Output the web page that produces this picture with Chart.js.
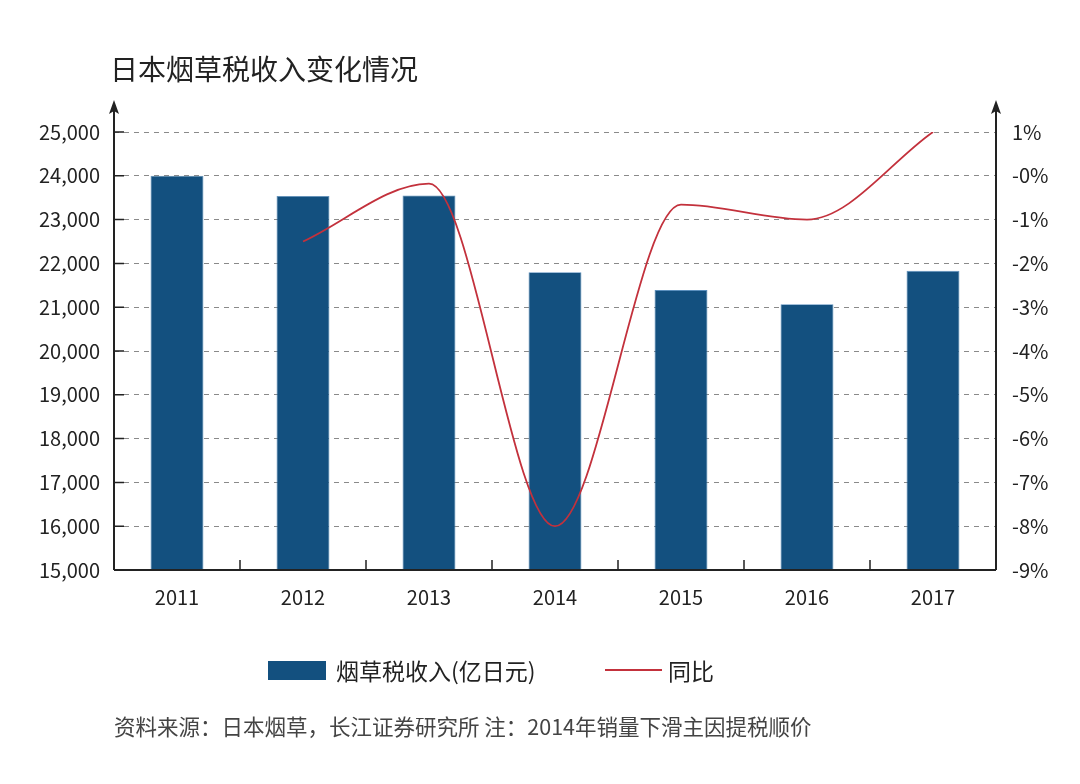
<!DOCTYPE html>
<html>
<head>
<meta charset="utf-8">
<script src="https://cdn.jsdelivr.net/npm/chart.js@4"></script>
<style>
  html, body { margin: 0; padding: 0; background: #fff; }
  #wrap { position: relative; width: 1080px; height: 784px; font-family: "Noto Sans CJK SC", "Noto Sans", sans-serif; color: #222; }
  #chart { position: absolute; left: 0; top: 0; }
  .txt { position: absolute; white-space: nowrap; line-height: 1; }
  #title { left: 110px; top: 54px; font-size: 28px; }
  #note { left: 114px; top: 715px; font-size: 21.5px; color: #444; }
  .lg { top: 659px; font-size: 23px; }
</style>
</head>
<body>
<div id="wrap">
  <canvas id="chart" width="1080" height="784"></canvas>
  <div class="txt" id="title">日本烟草税收入变化情况</div>
  <div class="txt" style="left:268px;top:661px;width:58px;height:19px;background:#13507f;"></div>
  <div class="txt lg" style="left:336px;">烟草税收入(亿日元)</div>
  <div class="txt" style="left:605px;top:669px;width:57px;height:2px;background:#c3313c;"></div>
  <div class="txt lg" style="left:668px;">同比</div>
  <div class="txt" id="note">资料来源：日本烟草，长江证券研究所 注：2014年销量下滑主因提税顺价</div>
</div>
<script>
const years = ['2011', '2012', '2013', '2014', '2015', '2016', '2017'];
const taxIncome = [24000, 23540, 23550, 21800, 21390, 21070, 21830];
const yoy = [null, -1.5, -0.18, -8.0, -0.66, -1.0, 1.0];

const barColor = '#13507f';
const lineColor = '#c3313c';
const axisColor = '#222';

// axes lines, arrows and the short inside ticks
const axesPlugin = {
    id: 'axesPlugin',
    afterDraw(chart) {
        const ctx = chart.ctx;
        const a = chart.chartArea;
        const y = chart.scales.y;
        ctx.save();
        ctx.strokeStyle = axisColor;
        ctx.fillStyle = axisColor;
        ctx.lineWidth = 2;
        ctx.beginPath();
        ctx.moveTo(a.left, a.bottom);
        ctx.lineTo(a.right, a.bottom);
        ctx.moveTo(a.left, a.bottom);
        ctx.lineTo(a.left, a.top - 26);
        ctx.moveTo(a.right, a.bottom);
        ctx.lineTo(a.right, a.top - 26);
        ctx.stroke();
        [a.left, a.right].forEach(px => {
            ctx.beginPath();
            ctx.moveTo(px, a.top - 32);
            ctx.lineTo(px - 5, a.top - 18);
            ctx.lineTo(px, a.top - 21);
            ctx.lineTo(px + 5, a.top - 18);
            ctx.closePath();
            ctx.fill();
        });
        ctx.lineWidth = 1.5;
        ctx.beginPath();
        y.ticks.forEach(t => {
            const py = y.getPixelForValue(t.value);
            ctx.moveTo(a.left, py);
            ctx.lineTo(a.left + 10, py);
        });
        const step = (a.right - a.left) / years.length;
        for (let i = 1; i < years.length; i++) {
            const px = a.left + step * i;
            ctx.moveTo(px, a.bottom);
            ctx.lineTo(px, a.bottom - 10);
        }
        ctx.stroke();
        ctx.restore();
    }
};

const tickFont = { family: '"Noto Sans CJK SC", "Noto Sans", sans-serif', size: 20 };

new Chart(document.getElementById('chart'), {
    data: {
        labels: years,
        datasets: [{
            type: 'line',
            label: '同比',
            data: yoy,
            yAxisID: 'y1',
            borderColor: lineColor,
            borderWidth: 1.8,
            pointRadius: 0,
            cubicInterpolationMode: 'monotone',
            fill: false,
            order: 0
        }, {
            type: 'bar',
            label: '烟草税收入(亿日元)',
            data: taxIncome,
            yAxisID: 'y',
            backgroundColor: barColor,
            borderColor: '#5b8fbd',
            borderWidth: 0.8,
            categoryPercentage: 1,
            barPercentage: 0.42,
            order: 1
        }]
    },
    options: {
        responsive: false,
        animation: false,
        layout: { padding: { top: 132, left: 0, right: 0, bottom: 0 } },
        plugins: {
            legend: { display: false },
            tooltip: { enabled: false }
        },
        scales: {
            x: {
                offset: true,
                grid: { display: false, drawTicks: false },
                border: { display: false },
                ticks: { color: axisColor, font: tickFont, padding: 15 },
                afterFit(s) { s.height = 214; }
            },
            y: {
                position: 'left',
                min: 15000,
                max: 25000,
                ticks: {
                    stepSize: 1000,
                    color: axisColor,
                    font: tickFont,
                    padding: 14,
                    callback: v => v.toLocaleString('en-US')
                },
                grid: {
                    drawTicks: false,
                    color: c => c.tick.value === 15000 ? 'rgba(0,0,0,0)' : '#8a8a8a',
                    lineWidth: 1
                },
                border: { display: false, dash: [5, 5] },
                afterFit(s) { s.width = 114; }
            },
            y1: {
                position: 'right',
                min: -9,
                max: 1,
                ticks: {
                    stepSize: 1,
                    color: axisColor,
                    font: tickFont,
                    padding: 16,
                    callback: v => (v === 0 ? '-0' : v) + '%'
                },
                grid: { display: false, drawTicks: false },
                border: { display: false },
                afterFit(s) { s.width = 84; }
            }
        }
    },
    plugins: [axesPlugin]
});
</script>
</body>
</html>
